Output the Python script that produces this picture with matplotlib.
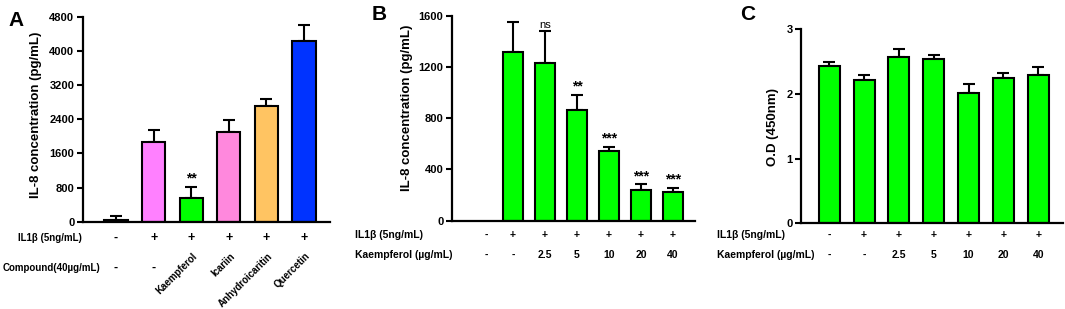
import matplotlib
matplotlib.use("Agg")
import matplotlib.pyplot as plt
import matplotlib.transforms as mtrans
import numpy as np

plt.rcParams['font.family'] = ['Liberation Sans', 'DejaVu Sans']
plt.rcParams['font.weight'] = 'bold'

# panel A
a_vals = [40, 1860, 550, 2110, 2720, 4220]
a_err = [95, 290, 260, 270, 150, 390]
a_colors = ['white', '#ff80ff', '#00ff00', '#ff88dd', '#ffc462', '#0033ff']
a_il1b = ['-', '+', '+', '+', '+', '+']
a_compound = ['-', '-', 'Kaempferol', 'Icariin', 'Anhydroicaritin', 'Quercetin']
a_ticks = [0, 800, 1600, 2400, 3200, 4000, 4800]
a_stars = ['', '', '**', '', '', '']

# panel B
b_vals = [0, 1320, 1234, 865, 544, 237, 227]
b_err = [0, 227, 243, 117, 34, 47, 31]
b_il1b = ['-', '+', '+', '+', '+', '+', '+']
b_kae = ['-', '-', '2.5', '5', '10', '20', '40']
b_ticks = [0, 400, 800, 1200, 1600]
b_stars = ['', '', 'ns', '**', '***', '***', '***']

# panel C
c_vals = [2.44, 2.22, 2.57, 2.54, 2.02, 2.25, 2.30]
c_err = [0.05, 0.07, 0.12, 0.07, 0.13, 0.08, 0.11]
c_il1b = ['-', '+', '+', '+', '+', '+', '+']
c_kae = ['-', '-', '2.5', '5', '10', '20', '40']
c_ticks = [0, 1, 2, 3]

W, H = 1065, 309
fig = plt.figure(figsize=(W / 100, H / 100), dpi=100)


def make_ax(left, right, top, bottom):
    return fig.add_axes([left / W, 1 - bottom / H, (right - left) / W, (bottom - top) / H])


def fy(py):
    return 1 - py / H


def style(ax, ticks):
    for s in ['top', 'right']:
        ax.spines[s].set_visible(False)
    for s in ['left', 'bottom']:
        ax.spines[s].set_linewidth(1.6)
    ax.set_xticks([])
    ax.set_yticks(ticks)
    ax.set_ylim(0, ticks[-1])
    ax.tick_params(axis='y', length=4, width=1.5, labelsize=8, pad=2)
    for t in ax.get_yticklabels():
        t.set_fontweight('bold')


def bars(ax, vals, err, colors, width):
    x = np.arange(len(vals))
    vals = np.asarray(vals, dtype=float)
    keep = vals > 0
    ax.bar(x[keep], vals[keep], width=width, color=np.asarray(colors)[keep],
           edgecolor='black', linewidth=1.5, zorder=2)
    ax.errorbar(x[keep], vals[keep], yerr=[np.zeros(keep.sum()), np.asarray(err)[keep]],
                fmt='none', ecolor='black', elinewidth=1.5, capsize=4.5, capthick=1.5, zorder=1)
    return x


# ---- A
axA = make_ax(82.7, 330, 16.7, 221.7)
xA = bars(axA, a_vals, a_err, a_colors, 0.62)
axA.set_xlim(-0.886, 5.69)
style(axA, a_ticks)
axA.set_ylabel('IL-8 concentration (pg/mL)', fontsize=9.5, fontweight='bold')
axA.yaxis.set_label_coords(42 / W, fy(115), transform=fig.transFigure)
trA = mtrans.blended_transform_factory(axA.transData, fig.transFigure)
for i, s in enumerate(a_stars):
    if s:
        axA.text(i, a_vals[i] + a_err[i] + 40, s, ha='center', va='bottom', fontsize=10, fontweight='bold')
fig.text(18 / W, fy(238), 'IL1β (5ng/mL)', fontsize=7, fontweight='bold', va='center')
fig.text(3 / W, fy(268), 'Compound(40µg/mL)', fontsize=7, fontweight='bold', va='center')
for i, s in enumerate(a_il1b):
    axA.text(i, fy(238), s, transform=trA, ha='center', va='center', fontsize=9, fontweight='bold')
for i, s in enumerate(a_compound):
    if s == '-':
        axA.text(i, fy(268), s, transform=trA, ha='center', va='center', fontsize=9, fontweight='bold')
    else:
        axA.text(i + 0.02, fy(251), s, transform=trA, ha='right', va='top', rotation=45,
                 rotation_mode='anchor', fontsize=7, fontweight='bold')
fig.text(8 / W, fy(20), 'A', fontsize=15, fontweight='bold', va='center')

# ---- B
axB = make_ax(451.7, 695, 15.7, 220.7)
xB = bars(axB, b_vals, b_err, ['#00ff00'] * 7, 0.6)
axB.set_xlim(-0.92, 6.69)
style(axB, b_ticks)
axB.set_ylabel('IL-8 concentration (pg/mL)', fontsize=9.5, fontweight='bold')
axB.yaxis.set_label_coords(413 / W, fy(108), transform=fig.transFigure)
trB = mtrans.blended_transform_factory(axB.transData, fig.transFigure)
for i, s in enumerate(b_stars):
    if s:
        axB.text(i, b_vals[i] + b_err[i] + 10, s, ha='center', va='bottom',
                 fontsize=8 if s == 'ns' else 10, fontweight='normal' if s == 'ns' else 'bold')
fig.text(355 / W, fy(235), 'IL1β (5ng/mL)', fontsize=7.5, fontweight='bold', va='center')
fig.text(355 / W, fy(255), 'Kaempferol (µg/mL)', fontsize=7.5, fontweight='bold', va='center')
for i in range(len(b_il1b)):
    axB.text(i + (0.15 if i == 0 else 0), fy(235), b_il1b[i], transform=trB, ha='center', va='center',
             fontsize=7.5, fontweight='bold')
    axB.text(i + (0.15 if i == 0 else 0), fy(255), b_kae[i], transform=trB, ha='center', va='center',
             fontsize=7.5, fontweight='bold')
fig.text(372 / W, fy(15), 'B', fontsize=15, fontweight='bold', va='center')

# ---- C
axC = make_ax(801, 1062.7, 29.3, 223.3)
xC = bars(axC, c_vals, c_err, ['#00ff00'] * 7, 0.6)
axC.set_xlim(-0.81, 6.7)
style(axC, c_ticks)
axC.set_ylabel('O.D (450nm)', fontsize=9.5, fontweight='bold')
axC.yaxis.set_label_coords(779 / W, fy(127), transform=fig.transFigure)
trC = mtrans.blended_transform_factory(axC.transData, fig.transFigure)
fig.text(717 / W, fy(235), 'IL1β (5ng/mL)', fontsize=7.5, fontweight='bold', va='center')
fig.text(717 / W, fy(255), 'Kaempferol (µg/mL)', fontsize=7.5, fontweight='bold', va='center')
for i in range(len(c_il1b)):
    axC.text(i, fy(235), c_il1b[i], transform=trC, ha='center', va='center',
             fontsize=7.5, fontweight='bold')
    axC.text(i, fy(255), c_kae[i], transform=trC, ha='center', va='center',
             fontsize=7.5, fontweight='bold')
fig.text(740 / W, fy(14), 'C', fontsize=15, fontweight='bold', va='center')

fig.savefig('out.png', dpi=100)
